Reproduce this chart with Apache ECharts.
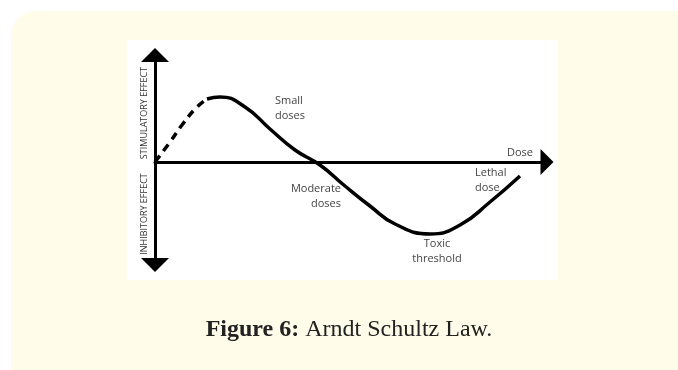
<!DOCTYPE html>
<html>
<head>
<meta charset="utf-8">
<script src="https://cdn.jsdelivr.net/npm/echarts@6/dist/echarts.min.js"></script>
<style>
  html, body { margin: 0; padding: 0; background: #fff; }
  #chart { width: 678px; height: 370px; }
</style>
</head>
<body>
<div id="chart"></div>
<script>
// dose (x) against effect (y); origin where the two axes cross
const lowDose = [[0, 0], [15, 20], [27, 37], [42, 55], [52, 63]]
const doseCurve = [
  [52, 63], [65, 65], [90, 55], [115, 33], [140, 12], [165, -3], [190, -24],
  [215, -44], [240, -62], [275, -72], [305, -63], [335, -40], [365, -14]
]
const xRange = [0, 392]
const yRange = [-103, 107]

const chart = echarts.init(document.getElementById('chart'))

const labelFont = '"Open Sans", sans-serif'
const note = (text, x, y, align) => ({
  type: 'text',
  x: x,
  y: y,
  style: {
    text: text,
    fill: '#444',
    font: '11px ' + labelFont,
    lineHeight: 15,
    align: align,
    verticalAlign: 'top'
  }
})
const sideLabel = (text, y) => ({
  type: 'text',
  x: 144,
  y: y,
  rotation: Math.PI / 2,
  style: {
    text: text,
    fill: '#333',
    font: '9px ' + labelFont,
    align: 'center',
    verticalAlign: 'middle'
  }
})

chart.setOption({
  animation: false,
  grid: { left: 155, right: 131, top: 55, bottom: 105 },
  xAxis: {
    type: 'value',
    min: xRange[0],
    max: xRange[1],
    axisLine: {
      lineStyle: { color: '#000', width: 3 },
      symbol: ['none', 'triangle'],
      symbolSize: [26, 13]
    },
    axisTick: { show: false },
    axisLabel: { show: false },
    splitLine: { show: false }
  },
  yAxis: {
    type: 'value',
    min: yRange[0],
    max: yRange[1],
    axisLine: {
      show: true,
      lineStyle: { color: '#000', width: 3 },
      symbol: ['triangle', 'triangle'],
      symbolSize: [28, 14]
    },
    axisTick: { show: false },
    axisLabel: { show: false },
    splitLine: { show: false }
  },
  series: [
    {
      type: 'line',
      data: lowDose,
      smooth: true,
      symbol: 'none',
      lineStyle: { color: '#000', width: 3.5, type: [8, 6] }
    },
    {
      type: 'line',
      data: doseCurve,
      smooth: true,
      symbol: 'none',
      lineStyle: { color: '#000', width: 3.5 }
    }
  ],
  graphic: [
    {
      type: 'rect',
      z: -10,
      shape: { x: 11, y: 11, width: 720, height: 420, r: 25 },
      style: { fill: '#fffce9' }
    },
    {
      type: 'rect',
      z: -9,
      shape: { x: 127, y: 40, width: 431, height: 240 },
      style: { fill: '#fff' }
    },
    sideLabel('STIMULATORY EFFECT', 113),
    sideLabel('INHIBITORY EFFECT', 214),
    note('Small\ndoses', 275, 93, 'left'),
    note('Moderate\ndoses', 341, 181, 'right'),
    note('Toxic\nthreshold', 437, 236, 'center'),
    note('Lethal\ndose', 475, 165, 'left'),
    note('Dose', 507, 145, 'left'),
    {
      type: 'text',
      x: 349,
      y: 330,
      style: {
        text: '{b|Figure 6:} Arndt Schultz Law.',
        fill: '#222',
        font: '24px "Liberation Serif", serif',
        align: 'center',
        verticalAlign: 'middle',
        rich: {
          b: { fontWeight: 'bold', fontSize: 24, fontFamily: '"Liberation Serif", serif', fill: '#222' }
        }
      }
    }
  ]
})
</script>
</body>
</html>
